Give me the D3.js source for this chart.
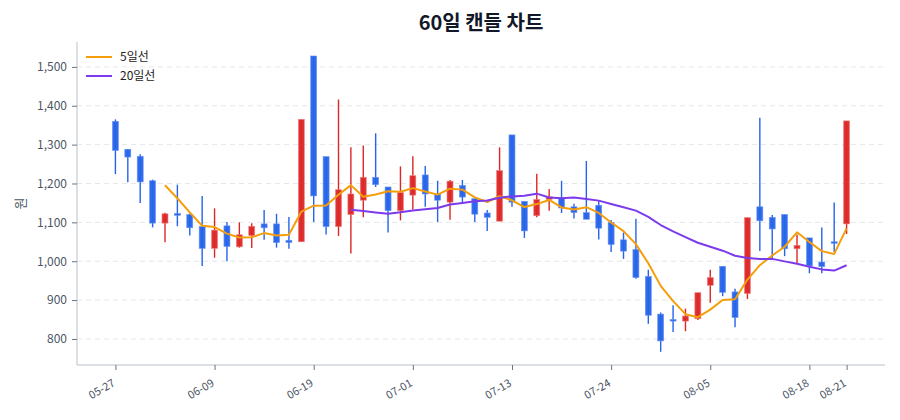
<!DOCTYPE html>
<html><head><meta charset="utf-8">
<script src="https://cdn.jsdelivr.net/npm/d3@7/dist/d3.min.js"></script>
<style>
html,body{margin:0;padding:0;background:#fff;}
svg{display:block;font-family:"Noto Sans CJK KR","Noto Sans",sans-serif;}
</style></head>
<body><svg id="chart" width="900" height="420"></svg>
<script>
const dates = ["05-27","05-28","05-29","06-01","06-02","06-04","06-05","06-08","06-09","06-10",
"06-11","06-12","06-15","06-16","06-17","06-18","06-19","06-22","06-23","06-24",
"06-25","06-26","06-29","06-30","07-01","07-02","07-03","07-06","07-07","07-08",
"07-09","07-10","07-13","07-14","07-15","07-16","07-20","07-21","07-22","07-23",
"07-24","07-27","07-28","07-29","07-30","07-31","08-03","08-04","08-05","08-06",
"08-07","08-10","08-11","08-12","08-13","08-14","08-18","08-19","08-20","08-21"];
const opens = [1360,1288,1270,1207,1098,1123,1120,1089,1033,1091,
1037,1066,1096,1096,1054,1050,1528,1269,1089,1120,
1157,1216,1191,1130,1170,1222,1173,1152,1195,1161,
1124,1103,1325,1154,1117,1159,1163,1140,1125,1144,
1100,1055,1030,961,864,850,846,852,938,987,
921,917,1140,1113,1120,1032,1060,998,1050,1096];
const highs = [1365,1288,1275,1210,1125,1197,1123,1168,1136,1101,
1100,1098,1132,1122,1114,1365,1528,1269,1416,1293,
1298,1329,1191,1244,1270,1245,1207,1209,1209,1161,
1132,1293,1325,1154,1225,1186,1207,1148,1258,1155,
1106,1074,1109,978,868,887,878,919,978,987,
929,1112,1369,1119,1120,1069,1060,1087,1151,1361];
const lows = [1224,1203,1150,1087,1049,1090,1066,988,1009,1000,
1035,1034,1055,1035,1032,1050,1101,1069,1065,1020,
1113,1191,1074,1105,1133,1140,1101,1107,1152,1101,
1078,1103,1140,1060,1113,1130,1124,1110,1108,1056,
1024,1006,955,839,767,818,820,849,893,910,
830,903,1026,1003,1013,994,969,969,1024,1070];
const closes = [1285,1268,1204,1098,1122,1118,1086,1033,1080,1038,
1068,1090,1086,1048,1048,1365,1168,1089,1184,1173,
1216,1197,1130,1177,1220,1173,1157,1206,1165,1121,
1113,1233,1152,1078,1159,1166,1137,1125,1108,1085,
1043,1026,958,861,795,846,859,919,958,920,
855,1112,1104,1083,1032,1041,988,986,1047,1361];
// moving averages as read (null where not yet defined)
const ma5 = [null,null,null,null,1195.4,1162.0,1125.6,1091.4,1087.8,1071.0,
1061.0,1061.8,1072.4,1066.0,1068.0,1127.4,1143.0,1143.6,1170.8,1195.8,
1166.0,1171.8,1180.0,1178.6,1188.0,1179.4,1171.4,1186.6,1184.2,1164.4,
1152.4,1167.6,1156.8,1139.4,1147.0,1157.6,1138.4,1133.0,1139.0,1124.2,
1099.6,1077.4,1044.0,994.6,936.6,897.2,863.8,856.0,875.4,900.4,
902.2,952.8,989.8,1014.8,1037.2,1074.4,1049.6,1026.0,1018.8,1084.6];
const ma20 = [null,null,null,null,null,null,null,null,null,null,
null,null,null,null,null,null,null,null,null,1132.6,
1129.1,1125.6,1121.9,1125.8,1130.7,1133.5,1137.0,1145.7,1149.9,1154.1,
1156.3,1163.5,1166.8,1168.3,1173.8,1163.9,1162.3,1164.1,1160.3,1155.9,
1147.3,1138.7,1130.1,1114.3,1093.1,1076.7,1061.8,1047.5,1037.1,1027.1,
1014.2,1008.1,1005.7,1006.0,999.6,993.4,985.9,979.0,975.9,989.7];
const yTicks = [800,900,1000,1100,1200,1300,1400,1500];
const xTickLabels = ["05-27","06-09","06-19","07-01","07-13","07-24","08-05","08-18","08-21"];
const seriesNames = ["5일선","20일선"];

const svg = d3.select("#chart");
const W = 900, H = 420;
const m = {left:77, right:15, top:42, bottom:55};
const pw = W - m.left - m.right, ph = H - m.top - m.bottom;
const UP = "#dc2626", DOWN = "#2563eb", C5 = "#f59e0b", C20 = "#7c3aed";

const x = d3.scalePoint().domain(dates).range([0, pw]).padding(3.1);
const y = d3.scaleLinear().domain([733, 1564]).range([ph, 0]);

const g = svg.append("g").attr("transform", `translate(${m.left},${m.top})`);

// grid
g.append("g").selectAll("line").data(yTicks).join("line")
  .attr("x1", 0).attr("x2", pw).attr("y1", d => y(d)).attr("y2", d => y(d))
  .attr("stroke", "#e5e7eb").attr("stroke-dasharray", "5,4").attr("stroke-width", 1);

// axes
const yAxis = g.append("g").call(d3.axisLeft(y).tickValues(yTicks).tickFormat(d3.format(",")).tickSize(5).tickPadding(5));
yAxis.select(".domain").attr("stroke", "#d1d5db").attr("stroke-width", 1.5).attr("d", `M0,${ph}V0`);
yAxis.selectAll(".tick line").attr("stroke", "#6b7280");
yAxis.selectAll(".tick text").attr("fill", "#4b5563").style("font-size", "12px").style("font-family", "'Noto Sans CJK KR','Noto Sans',sans-serif");

const xAxis = g.append("g").attr("transform", `translate(0,${ph})`)
  .call(d3.axisBottom(x).tickValues(xTickLabels).tickSize(5).tickSizeOuter(0));
xAxis.select(".domain").attr("stroke", "#d1d5db").attr("stroke-width", 1.5).attr("d", `M0,0H${pw}`);
xAxis.selectAll(".tick line").attr("stroke", "#6b7280");
xAxis.selectAll(".tick text").attr("fill", "#4b5563").style("font-size", "11px")
  .style("font-family", "'Noto Sans CJK KR','Noto Sans',sans-serif")
  .attr("text-anchor", "end").attr("dy", "0.35em")
  .attr("transform", "translate(-6,10) rotate(-30)");

// candles
const idx = d3.range(dates.length);
const bw = 6;
const cg = g.append("g");
cg.selectAll("line.wick").data(idx).join("line").attr("class", "wick")
  .attr("x1", i => x(dates[i])).attr("x2", i => x(dates[i]))
  .attr("y1", i => y(highs[i])).attr("y2", i => y(lows[i]))
  .attr("stroke", i => closes[i] >= opens[i] ? UP : DOWN).attr("stroke-width", 1.4);
cg.selectAll("rect.body").data(idx).join("rect").attr("class", "body")
  .attr("x", i => x(dates[i]) - bw / 2).attr("width", bw)
  .attr("y", i => y(Math.max(opens[i], closes[i])))
  .attr("height", i => Math.max(1.5, Math.abs(y(opens[i]) - y(closes[i]))))
  .attr("fill", i => closes[i] >= opens[i] ? UP : DOWN)
  .attr("fill-opacity", 0.95)
  .attr("stroke", i => closes[i] >= opens[i] ? "#f08080" : "#6b95f0").attr("stroke-width", 0.6);

// MA lines
const line = d3.line().defined(d => d.v != null).x(d => x(d.d)).y(d => y(d.v));
g.append("path").datum(dates.map((d, i) => ({d, v: ma5[i]})))
  .attr("d", line).attr("fill", "none").attr("stroke", C5).attr("stroke-width", 2).attr("stroke-linejoin", "round");
g.append("path").datum(dates.map((d, i) => ({d, v: ma20[i]})))
  .attr("d", line).attr("fill", "none").attr("stroke", C20).attr("stroke-width", 2).attr("stroke-linejoin", "round");

// legend
const lg = svg.append("g").attr("transform", "translate(86,57)");
[C5, C20].forEach((c, k) => {
  lg.append("line").attr("x1", 0).attr("x2", 26).attr("y1", k * 19).attr("y2", k * 19)
    .attr("stroke", c).attr("stroke-width", 2);
  lg.append("text").attr("x", 34).attr("y", k * 19).attr("dy", "0.35em")
    .attr("fill", "#222").style("font-size", "12px").text(seriesNames[k]);
});

// title
svg.append("text").attr("x", m.left + pw / 2).attr("y", 30).attr("text-anchor", "middle")
  .attr("fill", "#111827").style("font-size", "20px").style("font-weight", "bold").text("60일 캔들 차트");

// y label
svg.append("text").attr("transform", `translate(20,${m.top + ph / 2}) rotate(-90)`)
  .attr("text-anchor", "middle").attr("dy", "0.35em").attr("fill", "#4b5563").style("font-size", "13px").text("원");
</script></body></html>
